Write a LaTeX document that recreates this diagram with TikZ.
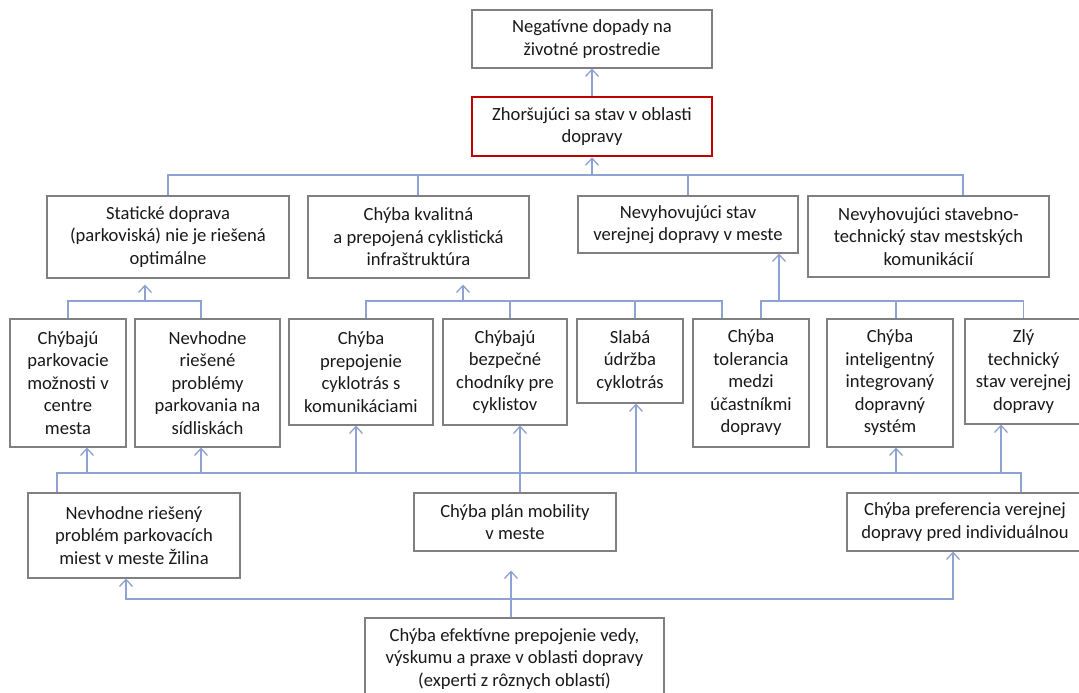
\documentclass[tikz,border=0pt]{standalone}
\usepackage{fontspec}
\setmainfont{Carlito}
\usepackage{tikz}
\usetikzlibrary{arrows.meta}
\definecolor{linkblue}{RGB}{143,162,212}
\definecolor{boxgray}{RGB}{128,128,128}
\definecolor{boxred}{RGB}{192,0,0}
\definecolor{textdark}{RGB}{25,25,25}

\begin{document}
\begin{tikzpicture}[x=1pt,y=-1pt,
    box/.style={draw=boxgray,line width=1.1pt,align=center,inner sep=0pt,text=textdark,
                font=\fontsize{18.6}{22.5}\selectfont},
    redbox/.style={box,draw=boxred,line width=2.6pt},
    link/.style={draw=linkblue,line width=1.3pt},
    arr/.style={link,-{Straight Barb[length=7pt,width=13pt]}}]
        \useasboundingbox (0,0) rectangle (1079,693);

        \node[box,minimum width=240,minimum height=58] (neg) at (592,39) {Negatívne dopady na\\životné prostredie};
        \node[redbox,minimum width=240,minimum height=59] (zhor) at (592,126.5) {Zhoršujúci sa stav v oblasti\\dopravy};

        \node[box,minimum width=242,minimum height=82] (stat) at (168,237) {Statické doprava\\(parkoviská) nie je riešená\\optimálne};
        \node[box,minimum width=221,minimum height=82] (kval) at (418.5,237) {Chýba kvalitná\\a prepojená cyklistická\\infraštruktúra};
        \node[box,minimum width=220,minimum height=57] (nstav) at (688,224.5) {Nevyhovujúci stav\\verejnej dopravy v meste};
        \node[box,minimum width=241,minimum height=81] (stb) at (928.5,236.5) {Nevyhovujúci stavebno-\\technický stav mestských\\komunikácií};

        \node[box,minimum width=116,minimum height=128] (park) at (68,383) {Chýbajú\\parkovacie\\možnosti v\\centre\\mesta};
        \node[box,minimum width=145,minimum height=128] (sidl) at (207.5,383) {Nevhodne\\riešené\\problémy\\parkovania na\\sídliskách};
        \node[box,minimum width=144,minimum height=106] (prep) at (361,372) {Chýba\\prepojenie\\cyklotrás s\\komunikáciami};
        \node[box,minimum width=124,minimum height=106] (bezp) at (505,372) {Chýbajú\\bezpečné\\chodníky pre\\cyklistov};
        \node[box,minimum width=106,minimum height=84] (slab) at (630,361) {Slabá\\údržba\\cyklotrás};
        \node[box,minimum width=116,minimum height=128] (tol) at (751,383) {Chýba\\tolerancia\\medzi\\účastníkmi\\dopravy};
        \node[box,minimum width=126,minimum height=128] (intel) at (890,383) {Chýba\\inteligentný\\integrovaný\\dopravný\\systém};
        \node[box,minimum width=117,minimum height=105] (zly) at (1023.5,371.5) {Zlý\\technický\\stav verejnej\\dopravy};

        \node[box,minimum width=212,minimum height=85] (nevr) at (134,535.5) {Nevhodne riešený\\problém parkovacích\\miest v meste Žilina};
        \node[box,minimum width=202,minimum height=58] (plan) at (515,522) {Chýba plán mobility\\v meste};
        \node[box,minimum width=236,minimum height=58] (pref) at (965,522) {Chýba preferencia verejnej\\dopravy pred individuálnou};
        \node[box,minimum width=299,minimum height=82] (eff) at (514.5,659) {Chýba efektívne prepojenie vedy,\\výskumu a praxe v oblasti dopravy\\(experti z rôznych oblastí)};

        \coordinate (topbar) at (592,175);
        \coordinate (parkbar) at (145,301);
        \coordinate (cykbar) at (463,301);
        \coordinate (verbar) at (779,301);
        \coordinate (lowbar) at (1021,473);
        \coordinate (effbar) at (511,599);

        % top levels
        \draw[arr] (zhor.north) -- (neg.south);
        \draw[arr] (topbar) -- (zhor.south);
        \draw[link] (stat.north) |- (topbar) -| ([xshift=34.5]stb.north);
        \draw[link] ([xshift=-0.5]kval.north) -- ([xshift=-0.5]kval.north |- topbar);
        \draw[link] (nstav.north) -- (nstav.north |- topbar);

        % second level groups
        \draw[link] (park.north) |- (parkbar) -| ([xshift=-6.5]sidl.north);
        \draw[arr,shorten >=6pt] (parkbar) -- (parkbar |- stat.south);
        \draw[link] ([xshift=5]prep.north) |- (cykbar) -| ([xshift=-29]tol.north);
        \draw[link] ([xshift=5]bezp.north) -- +(0,-18);
        \draw[link] ([xshift=5]slab.north) -- +(0,-18);
        \draw[arr,shorten >=6pt] (cykbar) -- (cykbar |- kval.south);
        \draw[link] ([xshift=10]tol.north) |- (verbar) -| (zly.north);
        \draw[link] ([xshift=6]intel.north) -- +(0,-18);
        \draw[arr] (verbar) -- (verbar |- nstav.south);

        % causes below
        \draw[link] ([xshift=-77]nevr.north) |- (lowbar) -- ([xshift=56]pref.north);
        \foreach \n/\dx in {park/19,sidl/-6.5,prep/-5,slab/6,intel/6,zly/-22.5}{
            \coordinate (tip) at ([xshift=\dx]\n.south);
            \draw[arr] (tip |- lowbar) -- (tip);
        }
        \draw[arr] ([xshift=5]plan.north) -- ([xshift=15]bezp.south);

        \draw[arr] (effbar) -| ([xshift=-8]nevr.south);
        \draw[arr] (effbar) -| ([xshift=-12]pref.south);
        \draw[arr,shorten >=19pt] ([xshift=-3.5]eff.north) -- (effbar |- plan.south);
\end{tikzpicture}
\end{document}
